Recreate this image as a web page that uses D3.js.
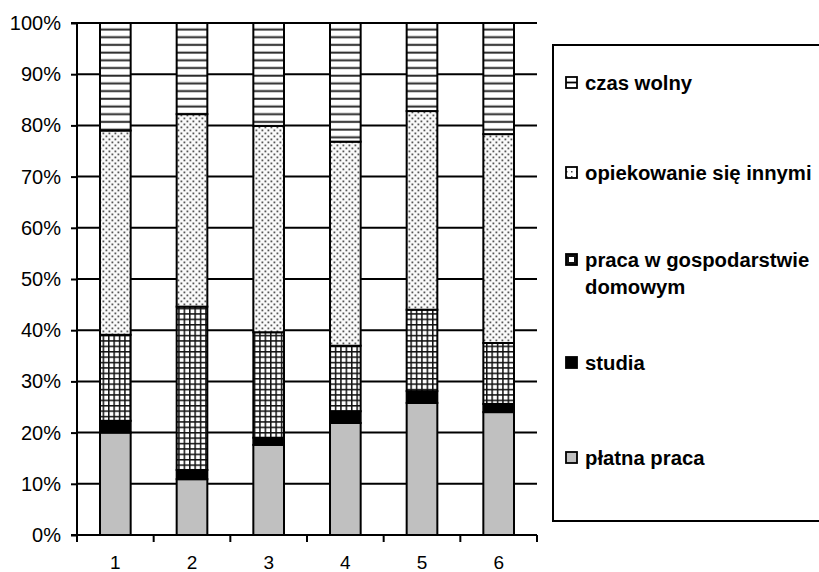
<!DOCTYPE html>
<html>
<head>
<meta charset="utf-8">
<script src="https://cdn.jsdelivr.net/npm/d3@7"></script>
<style>
  body { margin: 0; background: #fff; }
  svg { display: block; }
  text { font-family: "Liberation Sans", Arial, sans-serif; fill: #000; }
</style>
</head>
<body>
<svg id="chart" width="819" height="572"></svg>
<script>
// ---- data ----
const categories = ["1", "2", "3", "4", "5", "6"];
const platnaPraca   = [20.0, 10.9, 17.6, 21.9, 25.8, 24.0];
const studia        = [2.3, 1.8, 1.4, 2.3, 2.3, 1.6];
const pracaDom      = [16.8, 31.9, 20.6, 12.8, 15.9, 11.9];
const opiekowanie   = [39.9, 37.6, 40.3, 39.9, 38.8, 40.8];
const czasWolny     = [21.0, 17.8, 20.1, 23.2, 17.2, 21.7];
const seriesNames = ["płatna praca", "studia", "praca w gospodarstwie domowym", "opiekowanie się innymi", "czas wolny"];
const yTicks = [0, 10, 20, 30, 40, 50, 60, 70, 80, 90, 100];

const seriesValues = [platnaPraca, studia, pracaDom, opiekowanie, czasWolny];
const keys = ["p0", "p1", "p2", "p3", "p4"];
const table = categories.map((c, i) => {
  const row = { cat: c };
  let tot = 0;
  seriesValues.forEach((s) => tot += s[i]);
  seriesValues.forEach((s, k) => row[keys[k]] = s[i] / tot * 100);
  return row;
});

const svg = d3.select("#chart");
const pLeft = 77, pRight = 537, pTop = 23, pBottom = 535;

// patterns
const defs = svg.append("defs");
const ph = defs.append("pattern").attr("id", "hlines").attr("patternUnits", "userSpaceOnUse")
  .attr("width", 8).attr("height", 7.7).attr("y", pTop);
ph.append("rect").attr("width", 8).attr("height", 7.7).attr("fill", "#fff");
ph.append("rect").attr("y", 5.5).attr("width", 8).attr("height", 2).attr("fill", "#2a2a2a");
const pd = defs.append("pattern").attr("id", "dots").attr("patternUnits", "userSpaceOnUse")
  .attr("width", 6).attr("height", 6);
pd.append("rect").attr("width", 6).attr("height", 6).attr("fill", "#fafafa");
pd.append("rect").attr("x", 0.5).attr("y", 0.5).attr("width", 1.8).attr("height", 1.8).attr("fill", "#555");
pd.append("rect").attr("x", 3.5).attr("y", 3.5).attr("width", 1.8).attr("height", 1.8).attr("fill", "#555");
const pg = defs.append("pattern").attr("id", "grid").attr("patternUnits", "userSpaceOnUse")
  .attr("width", 5.4).attr("height", 5.4);
pg.append("rect").attr("width", 5.4).attr("height", 5.4).attr("fill", "#111");
pg.append("rect").attr("x", 1.5).attr("y", 1.5).attr("width", 3.9).attr("height", 3.9).attr("fill", "#fff");
const pd2 = defs.append("pattern").attr("id", "dots2").attr("patternUnits", "userSpaceOnUse")
  .attr("width", 5).attr("height", 5);
pd2.append("rect").attr("width", 5).attr("height", 5).attr("fill", "#fff");
pd2.append("rect").attr("x", 1).attr("y", 1).attr("width", 1.5).attr("height", 1.5).attr("fill", "#444");

const fills = ["#c0c0c0", "#000", "url(#grid)", "url(#dots)", "url(#hlines)"];

const x = d3.scaleBand().domain(categories).range([pLeft, pRight]).paddingInner(0.6).paddingOuter(0.3);
const y = d3.scaleLinear().domain([0, 100]).range([pBottom, pTop]);

// gridlines
svg.append("g").selectAll("line").data(yTicks.filter(t => t > 0)).join("line")
  .attr("x1", pLeft).attr("x2", pRight)
  .attr("y1", d => y(d)).attr("y2", d => y(d))
  .attr("stroke", "#000").attr("stroke-width", 2);

// bars
const stack = d3.stack().keys(keys)(table);
stack.forEach((layer, k) => {
  svg.append("g").selectAll("rect").data(layer).join("rect")
    .attr("x", d => x(d.data.cat))
    .attr("width", x.bandwidth())
    .attr("y", d => y(d[1]))
    .attr("height", d => y(d[0]) - y(d[1]))
    .attr("fill", fills[k])
    .attr("stroke", "#000").attr("stroke-width", 2);
});

// y axis
const yAxis = svg.append("g").attr("transform", `translate(${pLeft},0)`)
  .call(d3.axisLeft(y).tickValues(yTicks).tickFormat(d => d + "%").tickSize(6).tickPadding(10));
yAxis.select(".domain").attr("stroke-width", 2).attr("d", `M-6,${pTop}H0V${pBottom}`);
yAxis.selectAll(".tick line").attr("stroke-width", 2);
yAxis.selectAll(".tick text").attr("font-size", 20).attr("font-family", "Liberation Sans, Arial, sans-serif");

// x axis
const xPos = d3.scaleLinear().domain([0, categories.length]).range([pLeft, pRight]);
const xg = svg.append("g");
xg.append("line").attr("x1", pLeft - 6).attr("x2", pRight).attr("y1", pBottom).attr("y2", pBottom)
  .attr("stroke", "#000").attr("stroke-width", 2);
xg.selectAll("line.tk").data(d3.range(categories.length + 1)).join("line").attr("class", "tk")
  .attr("x1", d => xPos(d)).attr("x2", d => xPos(d))
  .attr("y1", pBottom).attr("y2", pBottom + 7)
  .attr("stroke", "#000").attr("stroke-width", 2);
xg.selectAll("text").data(categories).join("text")
  .attr("x", d => x(d) + x.bandwidth() / 2)
  .attr("y", 569)
  .attr("text-anchor", "middle")
  .attr("font-size", 19)
  .text(d => d);

// legend
const lg = svg.append("g");
lg.append("rect").attr("x", 553).attr("y", 45).attr("width", 280).attr("height", 476)
  .attr("fill", "#fff").attr("stroke", "#000").attr("stroke-width", 2);
const legendItems = [
  { lines: ["czas wolny"], y: 83, k: 4 },
  { lines: ["opiekowanie się innymi"], y: 173, k: 3 },
  { lines: ["praca w gospodarstwie", "domowym"], y: 260, k: 2 },
  { lines: ["studia"], y: 363, k: 1 },
  { lines: ["płatna praca"], y: 458, k: 0 }
];
legendItems.forEach(it => {
  const g = lg.append("g");
  const sx = 566, sy = it.y - 6, s = 11;
  if (it.k === 4) {
    g.append("rect").attr("x", sx).attr("y", sy).attr("width", s).attr("height", s).attr("fill", "#fff").attr("stroke", "#000").attr("stroke-width", 1.8);
    g.append("line").attr("x1", sx).attr("x2", sx + s).attr("y1", sy + s / 2).attr("y2", sy + s / 2).attr("stroke", "#000").attr("stroke-width", 1.8);
  } else if (it.k === 3) {
    g.append("rect").attr("x", sx).attr("y", sy).attr("width", s).attr("height", s).attr("fill", "url(#dots2)").attr("stroke", "#000").attr("stroke-width", 1.8);
  } else if (it.k === 2) {
    g.append("rect").attr("x", sx).attr("y", sy).attr("width", s).attr("height", s).attr("fill", "#111").attr("stroke", "#000").attr("stroke-width", 1.8);
    g.append("rect").attr("x", sx + 3).attr("y", sy + 3).attr("width", s - 6).attr("height", s - 6).attr("fill", "#fff");
  } else if (it.k === 1) {
    g.append("rect").attr("x", sx).attr("y", sy).attr("width", s).attr("height", s).attr("fill", "#000").attr("stroke", "#000").attr("stroke-width", 1.8);
  } else {
    g.append("rect").attr("x", sx).attr("y", sy).attr("width", s).attr("height", s).attr("fill", "#c0c0c0").attr("stroke", "#000").attr("stroke-width", 1.8);
  }
  it.lines.forEach((ln, j) => {
    g.append("text").attr("x", 585).attr("y", it.y + 7 + j * 27)
      .attr("font-size", 20.3).attr("font-weight", "bold").text(ln);
  });
});
</script>
</body>
</html>
